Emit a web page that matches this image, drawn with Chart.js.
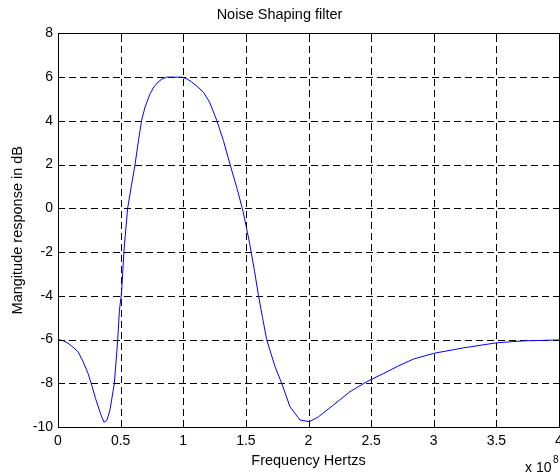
<!DOCTYPE html>
<html>
<head>
<meta charset="utf-8">
<script src="https://cdn.jsdelivr.net/npm/chart.js@4"></script>
<style>
html,body{margin:0;padding:0;background:#fff;}
#wrap{width:560px;height:475px;position:relative;}
</style>
</head>
<body>
<div id="wrap"><canvas id="c" width="560" height="475"></canvas></div>
<script>
// Frequency in units of 1e8 Hz
const freq = [0, 0.04, 0.08, 0.12, 0.16, 0.2, 0.24, 0.27, 0.30, 0.34, 0.367, 0.39, 0.415, 0.45, 0.477, 0.49, 0.508, 0.527, 0.556, 0.585, 0.615, 0.645, 0.668, 0.695, 0.735, 0.765, 0.80, 0.835, 0.868, 0.93, 0.988, 1.03, 1.067, 1.11, 1.16, 1.21, 1.267, 1.32, 1.373, 1.43, 1.48, 1.53, 1.57, 1.6, 1.633, 1.666, 1.733, 1.786, 1.852, 1.932, 2.007, 2.08, 2.2, 2.33, 2.465, 2.6, 2.72, 2.84, 3.0, 3.24, 3.5, 3.72, 4.0];
const magDb = [-6.0, -6.05, -6.17, -6.35, -6.56, -7.0, -7.55, -8.1, -8.7, -9.4, -9.78, -9.7, -9.22, -8.0, -6.0, -4.7, -3.8, -1.91, 0.0, 1.0, 2.0, 3.2, 4.03, 4.63, 5.24, 5.55, 5.78, 5.93, 6.0, 6.0, 6.0, 5.92, 5.78, 5.58, 5.32, 4.86, 4.03, 3.11, 2.02, 0.9, -0.2, -1.6, -2.9, -3.97, -5.0, -6.0, -7.24, -8.0, -9.07, -9.68, -9.76, -9.53, -8.99, -8.39, -7.93, -7.55, -7.2, -6.89, -6.63, -6.38, -6.15, -6.06, -6.02];
const xTicks = [0, 0.5, 1, 1.5, 2, 2.5, 3, 3.5, 4];
const yTicks = [-10, -8, -6, -4, -2, 0, 2, 4, 6, 8];
const titleText = 'Noise Shaping filter';
const xLabel = 'Frequency Hertzs';
const yLabel = 'Mangitude response in dB';
const xExponent = '8';

const FONT = '"Liberation Sans", Arial, sans-serif';

const gridPlugin = {
  id: 'dashedGrid',
  beforeDatasetsDraw(chart) {
    const {ctx, chartArea: a} = chart;
    const xs = chart.scales.x, ys = chart.scales.y;
    ctx.save();
    ctx.strokeStyle = '#000';
    ctx.lineWidth = 1;
    ctx.setLineDash([7, 4]);
    xTicks.forEach(v => {
      const px = Math.round(xs.getPixelForValue(v)) + 0.5;
      ctx.beginPath();
      ctx.moveTo(px, a.bottom); ctx.lineTo(px, a.top);
      ctx.stroke();
    });
    yTicks.forEach(v => {
      const py = Math.round(ys.getPixelForValue(v)) + 0.5;
      ctx.beginPath();
      ctx.moveTo(a.left, py); ctx.lineTo(a.right, py);
      ctx.stroke();
    });
    ctx.restore();
  },
  afterDatasetsDraw(chart) {
    const {ctx, chartArea: a} = chart;
    ctx.save();
    ctx.strokeStyle = '#000';
    ctx.lineWidth = 1;
    ctx.setLineDash([]);
    ctx.strokeRect(Math.round(a.left) + 0.5, Math.round(a.top) + 0.5, Math.round(a.right) - Math.round(a.left), Math.round(a.bottom) - Math.round(a.top));
    const xs = chart.scales.x, ys = chart.scales.y;
    ctx.beginPath();
    xTicks.forEach(v => {
      const px = Math.round(xs.getPixelForValue(v)) + 0.5;
      ctx.moveTo(px, a.bottom); ctx.lineTo(px, a.bottom - 5);
      ctx.moveTo(px, a.top); ctx.lineTo(px, a.top + 5);
    });
    yTicks.forEach(v => {
      const py = Math.round(ys.getPixelForValue(v)) + 0.5;
      ctx.moveTo(a.left, py); ctx.lineTo(a.left + 5, py);
      ctx.moveTo(a.right, py); ctx.lineTo(a.right - 5, py);
    });
    ctx.stroke();
    ctx.fillStyle = '#000';
    ctx.textBaseline = 'alphabetic';
    ctx.textAlign = 'left';
    ctx.font = '14px ' + FONT;
    ctx.fillText('x 10', 525, 472);
    ctx.font = '10px ' + FONT;
    ctx.fillText(xExponent, 553, 463);
    ctx.restore();
  }
};

new Chart(document.getElementById('c'), {
  type: 'line',
  data: {
    datasets: [{
      data: freq.map((f, i) => ({x: f, y: magDb[i]})),
      borderColor: '#0000ff',
      borderWidth: 1,
      pointRadius: 0,
      tension: 0,
      fill: false
    }]
  },
  options: {
    responsive: false,
    animation: false,
    events: [],
    layout: {padding: {left: 0, right: 1, top: 0, bottom: 0}},
    plugins: {
      legend: {display: false},
      tooltip: {enabled: false},
      title: {
        display: true,
        text: titleText,
        color: '#000',
        font: {family: FONT, size: 14.5, weight: 'normal', lineHeight: 1.2},
        padding: {top: 6, bottom: 10}
      }
    },
    scales: {
      x: {
        type: 'linear',
        min: 0, max: 4,
        afterBuildTicks(s) { s.ticks = xTicks.map(v => ({value: v})); },
        afterFit(s) { s.height = 48; s.paddingLeft = 0; s.paddingRight = 0; },
        ticks: {
          color: '#000',
          font: {family: FONT, size: 14},
          padding: 6,
          maxRotation: 0,
          autoSkip: false,
          callback: v => String(v)
        },
        grid: {display: false, drawTicks: false},
        border: {display: false},
        title: {display: true, text: xLabel, color: '#000', font: {family: FONT, size: 14.5, lineHeight: 1.2}, padding: {top: 0, bottom: 5}}
      },
      y: {
        type: 'linear',
        min: -10, max: 8,
        afterBuildTicks(s) { s.ticks = yTicks.map(v => ({value: v})); },
        afterFit(s) { s.width = 58; s.paddingTop = 0; s.paddingBottom = 0; },
        ticks: {
          color: '#000',
          font: {family: FONT, size: 14},
          padding: 5,
          autoSkip: false,
          callback: v => String(v)
        },
        grid: {display: false, drawTicks: false},
        border: {display: false},
        title: {display: true, text: yLabel, color: '#000', font: {family: FONT, size: 14.5, lineHeight: 1.2}, padding: {top: 9, bottom: 0}}
      }
    }
  },
  plugins: [gridPlugin]
});
</script>
</body>
</html>
